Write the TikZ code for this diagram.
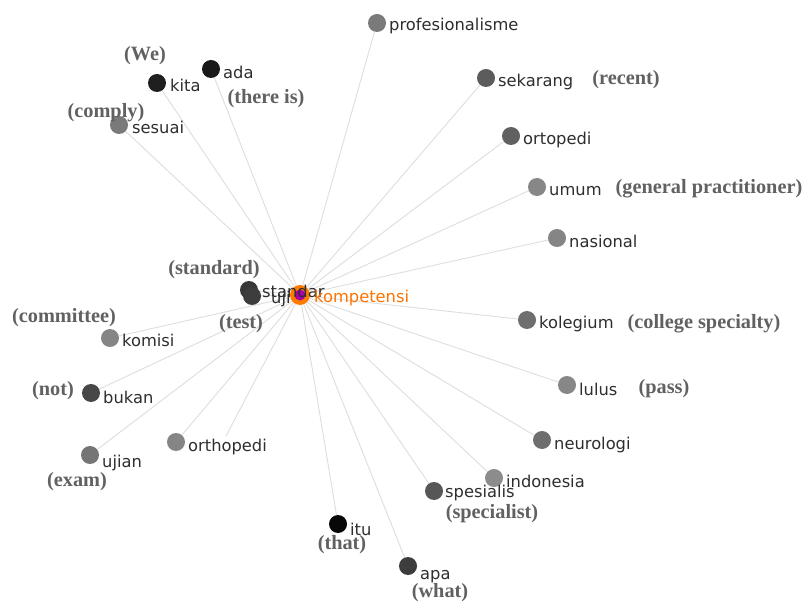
\documentclass[tikz,border=0pt]{standalone}
\usepackage{fontspec}
\usetikzlibrary{backgrounds}
\newfontfamily\wordfont{DejaVu Sans}
\newfontfamily\glossfont{Liberation Serif}
\begin{document}
\begin{tikzpicture}[x=1pt,y=-1pt,
  dot/.style={circle,fill=#1,minimum size=18pt,inner sep=0pt},
  word/.style={font=\wordfont\fontsize{16.3}{19}\selectfont,text=black!82,inner sep=0pt,anchor=base west},
  gloss/.style={font=\glossfont\bfseries\fontsize{20.3}{23}\selectfont,text=black!62,inner sep=0pt},
  link/.style={draw=black!13,line width=0.9pt}]
\useasboundingbox (0,0) rectangle (808,601);

% hub
\node[circle,fill=orange!85!red!90!yellow,minimum size=20pt,inner sep=0pt] (c) at (300,295) {};
\node[circle,fill=violet!70!magenta,minimum size=11pt,inner sep=0pt] (ci) at (c) {};

% word nodes
\node[dot=black!52] (prof) at (377,23) {};
\node[dot=black!64] (sek) at (486,78) {};
\node[dot=black!62] (ort) at (511,136) {};
\node[dot=black!47] (umum) at (537,187) {};
\node[dot=black!48] (nas) at (557,238) {};
\node[dot=black!57] (kol) at (527,320) {};
\node[dot=black!47] (lul) at (567,385) {};
\node[dot=black!57] (neu) at (542,440) {};
\node[dot=black!45] (indo) at (494,478) {};
\node[dot=black!66] (spes) at (434,491) {};
\node[dot=black!76] (apa) at (408,566) {};
\node[dot=black!97] (itu) at (338,524) {};
\node[dot=black!48] (orth) at (176,442) {};
\node[dot=black!54] (ujian) at (90,455) {};
\node[dot=black!72] (bukan) at (91,393) {};
\node[dot=black!48] (kom) at (110,338) {};
\node[dot=black!52] (ses) at (119,125) {};
\node[dot=black!88] (kita) at (157,83) {};
\node[dot=black!90] (ada) at (211,69) {};
\node[dot=black!78] (std) at (249,290) {};
\node[dot=black!76] (uji) at (252,296) {};
\coordinate (loose) at (226,436);

% white page and connectors behind everything
\begin{scope}[on background layer]
\fill[white] (0,0) rectangle (808,601);
\foreach \n in {prof,sek,ort,umum,nas,kol,lul,neu,indo,spes,apa,itu,orth,ujian,bukan,kom,ses,kita,ada,std,uji}
  \draw[link] (c) -- (\n);
\draw[link] (c) -- (loose);
\end{scope}

% word labels
\node[word] (tprof) at ([xshift=12pt,yshift=-8pt]prof) {profesionalisme};
\node[word] (tsek) at ([xshift=12pt,yshift=-9pt]sek) {sekarang};
\node[word] (tort) at ([xshift=12pt,yshift=-9pt]ort) {ortopedi};
\node[word] (tumum) at ([xshift=12pt,yshift=-9pt]umum) {umum};
\node[word] (tnas) at ([xshift=12pt,yshift=-10pt]nas) {nasional};
\node[word] (tkol) at ([xshift=12pt,yshift=-9pt]kol) {kolegium};
\node[word] (tlul) at ([xshift=12pt,yshift=-10pt]lul) {lulus};
\node[word] (tneu) at ([xshift=12pt,yshift=-9pt]neu) {neurologi};
\node[word] (tindo) at ([xshift=12pt,yshift=-9pt]indo) {indonesia};
\node[word] (tspes) at ([xshift=11pt,yshift=-6pt]spes) {spesialis};
\node[word] (tapa) at ([xshift=12pt,yshift=-13pt]apa) {apa};
\node[word] (titu) at ([xshift=12pt,yshift=-11pt]itu) {itu};
\node[word] (torth) at ([xshift=12pt,yshift=-9pt]orth) {orthopedi};
\node[word] (tujian) at ([xshift=12pt,yshift=-12pt]ujian) {ujian};
\node[word] (tbukan) at ([xshift=12pt,yshift=-10pt]bukan) {bukan};
\node[word] (tkom) at ([xshift=12pt,yshift=-9pt]kom) {komisi};
\node[word] (tses) at ([xshift=13pt,yshift=-9pt]ses) {sesuai};
\node[word] (tkita) at ([xshift=13pt,yshift=-9pt]kita) {kita};
\node[word] (tada) at ([xshift=12pt,yshift=-10pt]ada) {ada};
\node[word] (tstd) at ([xshift=13pt,yshift=-8pt]std) {standar};
\node[word] (tuji) at ([xshift=19pt,yshift=-8pt]uji) {uji};
\node[word,text=orange!90!red] (tc) at ([xshift=14pt,yshift=-8pt]c) {kompetensi};

% translations
\node[gloss] (gsek) at (626,80) {(recent)};
\node[gloss] (gumum) at (709,189) {(general practitioner)};
\node[gloss] (gkol) at (704,324) {(college specialty)};
\node[gloss] (glul) at (664,389) {(pass)};
\node[gloss] (gspes) at (492,514) {(specialist)};
\node[gloss] (gapa) at (440,593) {(what)};
\node[gloss] (gitu) at (342,545) {(that)};
\node[gloss] (gujian) at (77,482) {(exam)};
\node[gloss] (gbukan) at (53,391) {(not)};
\node[gloss] (gkom) at (64,318) {(committee)};
\node[gloss] (guji) at (241,324) {(test)};
\node[gloss] (gstd) at (214,270) {(standard)};
\node[gloss] (gses) at (106,113) {(comply)};
\node[gloss] (gkita) at (145,56) {(We)};
\node[gloss] (gada) at (266,99) {(there is)};
\end{tikzpicture}
\end{document}
